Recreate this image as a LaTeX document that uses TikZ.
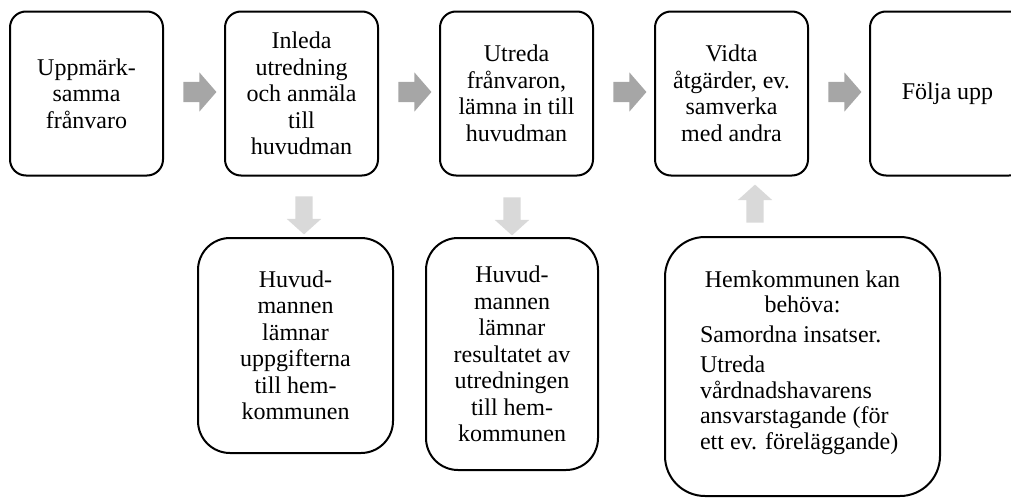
\documentclass[tikz,border=0pt]{standalone}
\usepackage{fontspec}
\setmainfont{Liberation Serif}
\usetikzlibrary{shapes.arrows}
\tikzset{
  stepbox/.style={draw=black, line width=2pt, rounded corners=16pt, align=center,
    inner sep=0pt, font=\fontsize{24}{26.5}\selectfont},
  topbox/.style={stepbox, minimum width=153pt, minimum height=164pt},
  subbox/.style={stepbox, rounded corners=32pt},
  harrow/.style={single arrow, fill=arrowdark, draw=none, inner xsep=0pt, inner ysep=10pt,
    minimum height=33pt, single arrow head extend=9.5pt, single arrow tip angle=98, single arrow head indent=0pt},
  varrow/.style={single arrow, fill=arrowlight, draw=none, inner xsep=0pt, inner ysep=8.5pt,
    minimum height=38pt, single arrow head extend=8.5pt, single arrow tip angle=96, single arrow head indent=0pt}
}
\definecolor{arrowdark}{HTML}{A6A6A6}
\definecolor{arrowlight}{HTML}{D9D9D9}
\begin{document}
\begin{tikzpicture}[x=1pt,y=-1pt]
\useasboundingbox (0,0) rectangle (1011,498);
% top row
\node[topbox] (b1) at (86.5,93.5) {Uppmärk-\\samma\\frånvaro};
\node[topbox] (b2) at (301.5,93.5) {Inleda\\utredning\\och anmäla\\till\\huvudman};
\node[topbox] (b3) at (516.5,93.5) {Utreda\\frånvaron,\\lämna in till\\huvudman};
\node[topbox] (b4) at (731.5,93.5) {Vidta\\åtgärder, ev.\\samverka\\med andra};
\node[topbox, minimum width=155pt] (b5) at (947.5,93.5) {Följa upp};
% bottom row
\node[subbox, minimum width=195pt, minimum height=215pt] (b6) at (295.5,345.5)
  {Huvud-\\mannen\\lämnar\\uppgifterna\\till hem-\\kommunen};
\node[subbox, minimum width=172pt, minimum height=232pt] (b7) at (512,354)
  {Huvud-\\mannen\\lämnar\\resultatet av\\utredningen\\till hem-\\kommunen};
\node[subbox, rounded corners=40pt, minimum width=275pt, minimum height=259pt] (b8) at (802.5,366.5)
  {\parbox{205pt}{\fontsize{24}{25.5}\selectfont\centering Hemkommunen kan\\behöva:\par\vspace{4.5pt}\raggedright
   Samordna insatser.\par\vspace{4.5pt}
   Utreda\\vårdnadshavarens\\ansvarstagande (för\\ett ev. föreläggande)\par\vspace{8pt}}};
% horizontal arrows
\node[harrow] (a12) at (195.5,92) {};
\node[harrow] (a23) at (410.5,92) {};
\node[harrow] (a34) at (625.5,92) {};
\node[harrow] (a45) at (840.5,92) {};
% vertical arrows
\node[varrow, rotate=-90] (a26) at (304,211.5) {};
\node[varrow, rotate=-90] (a37) at (512,212.5) {};
\node[varrow, rotate=90] (a84) at (755,207.5) {};
\end{tikzpicture}
\end{document}
